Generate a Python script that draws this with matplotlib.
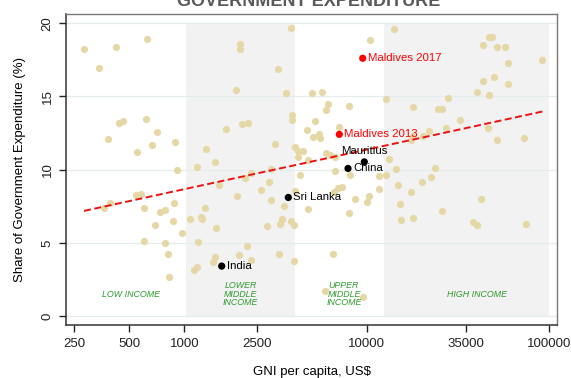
import numpy as np
import matplotlib
matplotlib.use('Agg')
import matplotlib.pyplot as plt
from matplotlib import font_manager

plt.rcParams['font.family'] = ['Liberation Sans', 'DejaVu Sans']

# GNI per capita (US$) and share of government expenditure (%)
gni = [282, 341, 422, 624, 2007, 2007, 3821, 3264, 1908, 3610,
       5030, 5665, 10420, 14170, 12755, 6095, 6003, 7995, 3904, 3900,
       5225, 2064, 2221, 1686, 4688, 7074, 5497, 5044, 5566, 3150,
       4030, 4216, 4490, 4184, 4783, 6003, 6315, 6675, 13250, 2976,
       6675, 8097, 11680, 12800, 14510, 4280, 2326, 2160, 2913, 440,
       460, 620, 711, 382, 669, 889, 552, 1318, 1473, 1178,
       906, 1554, 541, 581, 390, 361, 601, 878, 738, 787,
       1304, 1070, 1230, 1243, 867, 692, 1486, 977, 601, 787,
       1186, 811, 1467, 1431, 1177, 1137, 819, 1945, 2630, 3000,
       4030, 3506, 3432, 3325, 3835, 4004, 2840, 2215, 2000, 2329,
       3284, 4004, 4748, 6641, 6977, 7292, 8626, 7965, 9973, 10330,
       11725, 6509, 5921, 9482, 23680, 22460, 20170, 14880, 17530, 15220,
       42310, 25870, 15320, 17890, 38010, 40400, 74690, 46820, 48440, 43240,
       51930, 57300, 59290, 91750, 43560, 49870, 59140, 40350, 47000, 28020,
       17980, 24440, 25970, 32480, 27040, 21950, 46240, 18000, 17430, 20270,
       51930, 72840]
share = [18.23, 16.96, 18.40, 18.91, 18.57, 18.23, 19.66, 16.89, 15.41, 15.21,
         15.26, 15.31, 18.83, 19.58, 14.86, 14.47, 14.05, 14.33, 13.70, 13.38,
         13.30, 13.15, 13.16, 12.80, 12.73, 12.92, 12.46, 12.20, 12.13, 11.77,
         11.56, 11.24, 11.28, 10.83, 10.67, 11.11, 11.01, 10.83, 10.70, 10.01,
         9.90, 9.62, 9.56, 9.66, 10.01, 9.62, 9.74, 9.40, 9.13, 13.16,
         13.33, 13.43, 12.58, 12.10, 11.67, 11.88, 11.19, 11.43, 10.51, 10.18,
         9.97, 8.94, 8.25, 8.33, 7.71, 7.35, 7.39, 7.69, 7.12, 7.22,
         7.39, 6.60, 6.77, 6.61, 6.47, 6.19, 5.99, 5.65, 5.13, 4.97,
         5.06, 4.27, 4.06, 3.72, 3.32, 3.17, 2.64, 8.18, 8.58, 7.90,
         8.53, 7.51, 6.62, 6.28, 6.46, 6.21, 6.16, 4.81, 4.18, 3.81,
         4.21, 3.74, 7.28, 8.48, 8.74, 8.84, 7.97, 7.01, 7.76, 8.23,
         8.69, 4.21, 1.69, 1.31, 10.12, 9.50, 9.13, 8.94, 8.48, 7.66,
         7.99, 7.15, 6.54, 6.68, 6.40, 6.19, 6.28, 19.07, 19.04, 18.52,
         18.40, 18.38, 17.29, 17.47, 16.04, 16.35, 15.87, 15.31, 15.09, 14.87,
         14.31, 14.13, 14.13, 13.36, 12.87, 12.65, 12.83, 12.33, 12.03, 12.27,
         12.05, 12.14]

# countries called out on the chart
hl_names = ['India', 'Sri Lanka', 'China', 'Mauritius', 'Maldives 2013', 'Maldives 2017']
hl_gni = [1603, 3716, 7896, 9700, 7074, 9506]
hl_share = [3.41, 8.10, 10.08, 10.53, 12.41, 17.61]
hl_colors = ['black', 'black', 'black', 'black', 'red', 'red']

# World Bank income thresholds
group_edges = [1025, 4035, 12475, 100000]
group_labels = ['LOW INCOME', 'LOWER\nMIDDLE\nINCOME', 'UPPER\nMIDDLE\nINCOME', 'HIGH INCOME']
group_label_x = [510, 2030, 7500, 40000]

# log-linear fit: share = a + b * log10(gni)
fit_a, fit_b = 0.56, 2.702

xticks = [250, 500, 1000, 2500, 10000, 35000, 100000]
yticks = [0, 5, 10, 15, 20]

fig = plt.figure(figsize=(5.71, 3.78), dpi=100)
ax = fig.add_axes([0.1156, 0.1402, 0.86, 0.823])
ax.set_xscale('log')
ax.set_xlim(224.6, 110500)
ax.set_ylim(-0.615, 20.64)

# shaded bands for lower-middle and high income
ax.fill_between([group_edges[0], group_edges[1]], 0, 20, color='#f2f2f2', lw=0, zorder=0)
ax.fill_between([group_edges[2], group_edges[3]], 0, 20, color='#f2f2f2', lw=0, zorder=0)
for yv in yticks:
    ax.axhline(yv, color='#e4ecee', lw=0.9, zorder=1)

ax.scatter(gni, share, s=27, color='#e6d8a6', linewidths=0, zorder=3)

xs = np.array([min(gni), max(gni)])
ax.plot(xs, fit_a + fit_b * np.log10(xs), color='#ee1111', lw=1.4,
        dashes=(3.6, 1.8), zorder=4)

ax.scatter(hl_gni, hl_share, s=27, color=hl_colors, linewidths=0, zorder=5)
for name, gx, sy, c in zip(hl_names, hl_gni, hl_share, hl_colors):
    if name == 'Mauritius':
        ax.annotate(name, (gx, sy), xytext=(0, 4.5), textcoords='offset points',
                    ha='center', va='bottom', fontsize=8.2, color=c, zorder=6)
    else:
        ax.annotate(name, (gx, sy), xytext=(3.5, 0), textcoords='offset points',
                    ha='left', va='center', fontsize=8.2, color=c, zorder=6)

for lab, lx in zip(group_labels, group_label_x):
    ax.text(lx, 1.48, lab, ha='center', va='center', fontsize=6.4,
            style='italic', color='#2e9a2e', linespacing=0.95, zorder=6)

ax.set_xticks(xticks)
ax.set_xticklabels([str(t) for t in xticks])
ax.xaxis.set_minor_locator(matplotlib.ticker.NullLocator())
ax.set_yticks(yticks)
ax.set_yticklabels([str(t) for t in yticks], rotation=90, va='center')
ax.tick_params(axis='both', direction='out', length=5, width=1, labelsize=9.5,
               colors='#222222')
ax.tick_params(axis='x', pad=4)
ax.tick_params(axis='y', pad=4)

for side in ['left', 'bottom']:
    ax.spines[side].set_color('#333333')
    ax.spines[side].set_linewidth(1.1)
for side in ['top', 'right']:
    ax.spines[side].set_color('#777777')
    ax.spines[side].set_linewidth(1.0)

ax.set_xlabel('GNI per capita, US$', fontsize=9.5, labelpad=12)
ax.set_ylabel('Share of Government Expenditure (%)', fontsize=9.5, labelpad=11)

# narrow face for the heading when one is installed
installed = {f.name for f in font_manager.fontManager.ttflist}
title_family = [f for f in ['Liberation Sans Narrow', 'DejaVu Sans Condensed']
                if f in installed] + ['Liberation Sans']
fig.text(0.54, 0.995, 'GOVERNMENT EXPENDITURE', ha='center', va='center',
         fontsize=13, fontweight='bold', color='#5a5a5a', family=title_family)

fig.savefig('out.png', dpi=100)
